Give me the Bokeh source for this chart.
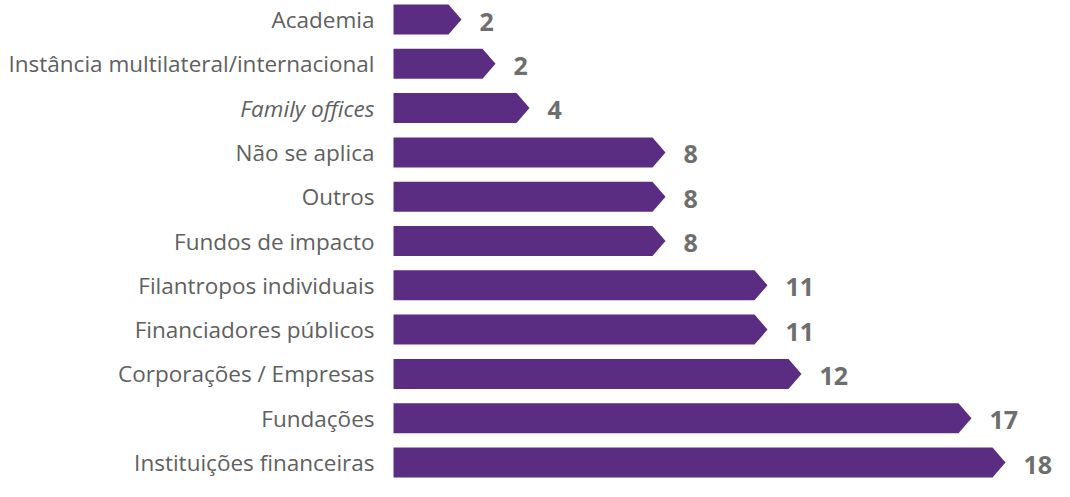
from bokeh.plotting import figure
from bokeh.models import Range1d, ColumnDataSource
from bokeh.core.properties import value
from bokeh.embed import file_html
from bokeh.resources import INLINE

# Data (top to bottom as shown)
categories = ["Academia", "Instância multilateral/internacional", "Family offices",
              "Não se aplica", "Outros", "Fundos de impacto", "Filantropos individuais",
              "Financiadores públicos", "Corporações / Empresas", "Fundações",
              "Instituições financeiras"]
bar_lengths = [2, 3, 4, 8, 8, 8, 11, 11, 12, 17, 18]
value_labels = ["2", "2", "4", "8", "8", "8", "11", "11", "12", "17", "18"]
italic_flags = [False, False, True, False, False, False, False, False, False, False, False]

W, H = 1054, 481
px_per_unit = 34.0
x0_px = 393
row_px = 44.3
top_center_px = 19
x_start = -x0_px / px_per_unit
x_end = (W - x0_px) / px_per_unit

n = len(categories)
ys = [n - 1 - i for i in range(n)]  # top row highest
y_end = (n - 1) + top_center_px / row_px
y_start = y_end - H / row_px

half_h = 15 / row_px
tip = 13 / px_per_unit

xs_poly, ys_poly = [], []
for v, y in zip(bar_lengths, ys):
    xs_poly.append([0, v - tip, v, v - tip, 0])
    ys_poly.append([y - half_h, y - half_h, y, y + half_h, y + half_h])

p = figure(width=W, height=H, output_backend="svg", toolbar_location=None,
           x_range=Range1d(x_start, x_end), y_range=Range1d(y_start, y_end),
           min_border=0, outline_line_color=None)
p.axis.visible = False
p.grid.visible = False

p.patches(xs_poly, ys_poly, fill_color="#5A2D82", line_color=None)

normal = ColumnDataSource(dict(
    x=[0] * n, y=ys, t=categories,
    style=["italic" if f else "normal" for f in italic_flags]))
p.text(x="x", y="y", text="t", source=normal, x_offset=-19, y_offset=0,
       text_align="right", text_baseline="middle", text_font=value("Open Sans"),
       text_font_size="22.5px", text_color="#606060", text_font_style="style")

vals = ColumnDataSource(dict(x=bar_lengths, y=ys, t=value_labels))
p.text(x="x", y="y", text="t", source=vals, x_offset=18, y_offset=2,
       text_align="left", text_baseline="middle", text_font=value("Open Sans"),
       text_font_size="25px", text_font_style="bold", text_color="#6e6e6e")

open("out.html", "w").write(file_html(p, INLINE))
